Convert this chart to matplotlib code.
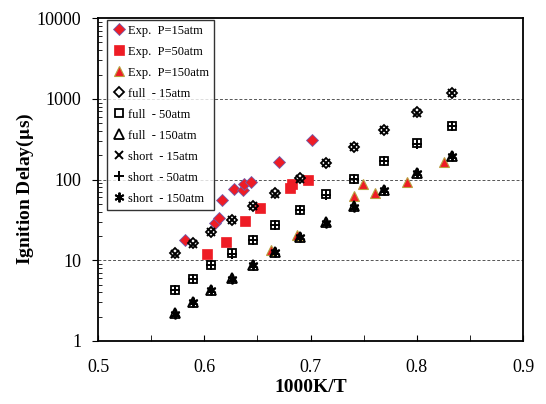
import matplotlib
matplotlib.use("Agg")
import matplotlib.pyplot as plt
from matplotlib.ticker import LogLocator, MultipleLocator, NullFormatter

plt.rcParams['font.family'] = ['Liberation Serif', 'DejaVu Serif']
plt.rcParams['mathtext.fontset'] = 'stix'

# experimental data
exp15_x = [0.582, 0.610, 0.614, 0.617, 0.628, 0.636, 0.637, 0.644, 0.670, 0.701]
exp15_y = [17.7, 29.0, 33.7, 56.0, 76.0, 74.0, 89.0, 92.6, 165.0, 310.0]
exp50_x = [0.603, 0.620, 0.638, 0.652, 0.681, 0.683, 0.698]
exp50_y = [12.1, 17.0, 30.4, 44.5, 78.7, 88.0, 98.9]
exp150_x = [0.663, 0.687, 0.741, 0.749, 0.761, 0.791, 0.826]
exp150_y = [13.4, 20.6, 62.6, 88.0, 68.8, 94.0, 167.0]

# model data (same temperature grid)
model_x = [0.572, 0.589, 0.606, 0.626, 0.646, 0.667, 0.690, 0.715, 0.741, 0.769, 0.800, 0.833]
full15 = [12.2, 16.2, 22.6, 31.6, 47.0, 67.6, 104, 162, 256, 412, 682, 1194]
full50 = [4.29, 5.87, 8.74, 12.2, 17.8, 27.4, 42.0, 65.7, 103, 171, 282, 466]
full150 = [2.20, 3.07, 4.29, 5.98, 8.74, 12.8, 19.6, 29.4, 46.7, 74.3, 120, 198]
short15 = [12.0, 16.0, 22.4, 31.3, 46.5, 67.0, 103, 160, 253, 408, 675, 1180]
short50 = [4.25, 5.82, 8.66, 12.1, 17.6, 27.1, 41.6, 65.0, 102, 169, 279, 461]
short150 = [2.18, 3.04, 4.25, 5.92, 8.66, 12.7, 19.4, 29.1, 46.2, 73.6, 119, 196]

fig = plt.figure(figsize=(5.46, 4.04), dpi=100)
ax = fig.add_axes([0.1795, 0.156, 0.7785, 0.799])

ax.plot(exp15_x, exp15_y, 'D', ms=5.8, mfc='#ee1c25', mec='#6f5fb0', mew=0.6, ls='none', label='Exp.  P=15atm')
ax.plot(exp50_x, exp50_y, 's', ms=6.8, mfc='#ee1c25', mec='#ee1c25', mew=0.5, ls='none', label='Exp.  P=50atm')
ax.plot(exp150_x, exp150_y, '^', ms=7.2, mfc='#ee1c25', mec='#b8a040', mew=0.8, ls='none', label='Exp.  P=150atm')

ax.plot(model_x, full15, 'D', ms=5, mfc='none', mec='black', mew=1.3, ls='none', label='full  - 15atm')
ax.plot(model_x, full50, 's', ms=6, mfc='none', mec='black', mew=1.3, ls='none', label='full  - 50atm')
ax.plot(model_x, full150, '^', ms=6.5, mfc='none', mec='black', mew=1.3, ls='none', label='full  - 150atm')
ax.plot(model_x, short15, 'x', ms=6, color='black', mew=1.4, ls='none', label='short  - 15atm')
ax.plot(model_x, short50, '+', ms=6.5, color='black', mew=1.4, ls='none', label='short  - 50atm')
ax.plot(model_x, short150, marker=(6, 2, 0), ms=7, color='black', mew=1.4, ls='none', label='short  - 150atm')

ax.set_yscale('log')
ax.set_xlim(0.5, 0.9)
ax.set_ylim(1, 10000)
ax.xaxis.set_minor_locator(MultipleLocator(0.05))
ax.set_xticks([0.5, 0.6, 0.7, 0.8, 0.9])
ax.set_xticklabels(['0.5', '0.6', '0.7', '0.8', '0.9'])
ax.yaxis.set_minor_locator(LogLocator(base=10, subs=range(2, 10)))
ax.yaxis.set_minor_formatter(NullFormatter())
ax.set_yticks([1, 10, 100, 1000, 10000])
ax.set_yticklabels(['1', '10', '100', '1000', '10000'])

ax.tick_params(axis='x', which='both', direction='in', length=4, labelsize=13, pad=13)
ax.tick_params(axis='y', which='major', direction='out', length=4, labelsize=13, pad=8)
ax.tick_params(axis='y', which='minor', direction='in', length=3)
ax.tick_params(top=False, right=False)

for y in [10, 100, 1000]:
    ax.axhline(y, color='#555555', ls=(0, (3, 2)), lw=0.7, zorder=0)

for s in ax.spines.values():
    s.set_linewidth(1.3)

ax.set_xlabel('1000K/T', fontsize=14, fontweight='bold', labelpad=2)
ax.set_ylabel(r'Ignition Delay($\mathbf{\mu}$s)', fontsize=14, fontweight='bold')
ax.yaxis.set_label_coords(-0.145, 0.47)

leg = ax.legend(loc='upper left', bbox_to_anchor=(0.02, 0.995), fontsize=9, frameon=True,
                fancybox=False, edgecolor='black', handletextpad=0.15, handlelength=1.2,
                borderpad=0.4, labelspacing=0.72, borderaxespad=0.0)
leg.get_frame().set_linewidth(1.0)

fig.savefig('out.png', dpi=100)
